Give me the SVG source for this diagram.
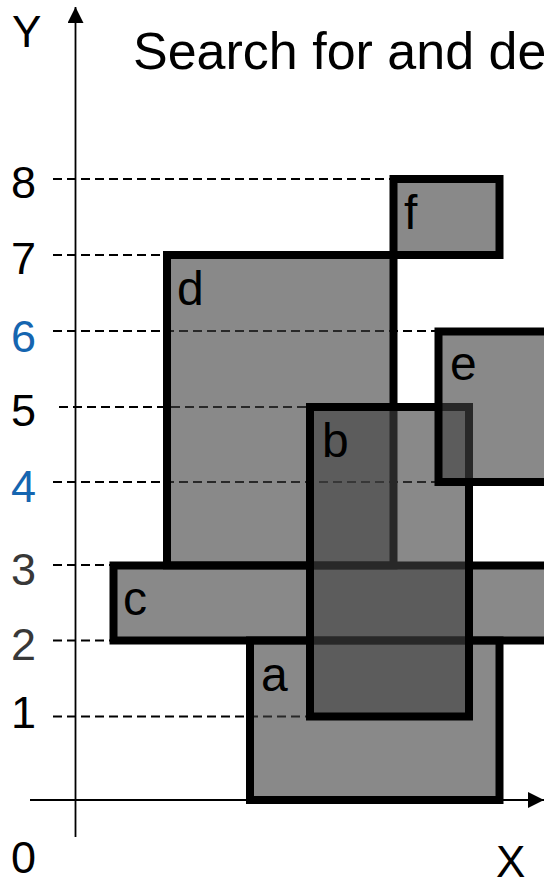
<svg xmlns="http://www.w3.org/2000/svg" width="544" height="885" viewBox="0 0 544 885">
<style>
.t{font-family:"Liberation Sans",Arial,sans-serif;fill:#000}
.num{font-size:45px}
.lbl{font-size:48px}
.blue{fill:#1565b0}
.gray{fill:#383838}
.r{fill:#404040;fill-opacity:0.62;stroke:#000;stroke-width:8}
.dash{stroke:#000;stroke-width:2.2;stroke-dasharray:9 5;fill:none}
.axis{stroke:#000;stroke-width:1.8;fill:none}
</style>
<defs>
<marker id="ah" viewBox="0 0 16 16" refX="16" refY="8" markerWidth="16" markerHeight="16" markerUnits="userSpaceOnUse" orient="auto">
<path d="M0,0 L16,8 L0,16 Z" fill="#000"/>
</marker>
</defs>
<rect width="544" height="885" fill="#fff"/>
<text class="t" x="133" y="69" style="font-size:52px">Search for and de</text>
<g id="connectors">
<line class="axis" x1="75.5" y1="837" x2="75.5" y2="7" marker-end="url(#ah)"/>
<line class="axis" x1="30" y1="800" x2="544" y2="800" marker-end="url(#ah)"/>
<line class="dash" x1="53" y1="179" x2="390" y2="179"/>
<line class="dash" x1="53" y1="255" x2="163" y2="255"/>
<line class="dash" x1="53" y1="331" x2="435" y2="331"/>
<line class="dash" x1="59" y1="407" x2="306" y2="407"/>
<line class="dash" x1="53" y1="482" x2="435" y2="482"/>
<line class="dash" x1="53" y1="565" x2="110" y2="565"/>
<line class="dash" x1="53" y1="640.5" x2="110" y2="640.5"/>
<line class="dash" x1="53" y1="716.5" x2="306" y2="716.5"/>
</g>
<g id="labels">
<text class="t" x="12" y="47" style="font-size:44px">Y</text>
<text class="t num" x="11" y="198">8</text>
<text class="t num" x="11" y="274">7</text>
<text class="t num blue" x="11" y="352">6</text>
<text class="t num" x="11" y="426">5</text>
<text class="t num blue" x="11" y="502">4</text>
<text class="t num gray" x="11" y="585">3</text>
<text class="t num gray" x="11" y="660">2</text>
<text class="t num" x="11" y="728">1</text>
<text class="t num" x="11" y="873">0</text>
<text class="t" x="496" y="877" style="font-size:44px">X</text>
</g>
<g id="d"><rect class="r" x="167" y="255" width="226.5" height="310.5"/><text class="t lbl" x="177" y="305">d</text></g>
<g id="f"><rect class="r" x="393.5" y="179" width="106" height="76"/><text class="t lbl" x="404" y="229">f</text></g>
<g id="c"><rect class="r" x="113.5" y="565.5" width="450" height="75"/><text class="t lbl" x="123" y="615">c</text></g>
<g id="a"><rect class="r" x="250" y="640.5" width="249.5" height="159.5"/><text class="t lbl" x="261" y="691">a</text></g>
<g id="b"><rect class="r" x="310" y="407" width="159" height="309.5"/><text class="t lbl" x="322" y="457">b</text></g>
<g id="e"><rect class="r" x="438.5" y="331.5" width="200" height="150.5"/><text class="t lbl" x="450" y="380">e</text></g>
</svg>
